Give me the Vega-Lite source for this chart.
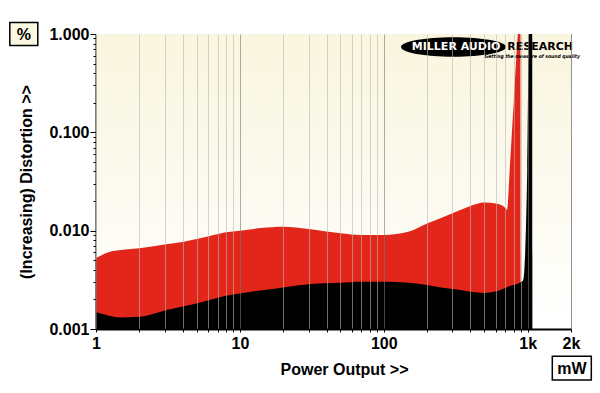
{
  "$schema": "https://vega.github.io/schema/vega-lite/v6.json",
  "width": 475,
  "height": 295,
  "autosize": {"type": "none"},
  "padding": {"left": 96, "top": 34, "right": 29, "bottom": 64},
  "background": "white",
  "config": {
    "view": {"stroke": "#555", "strokeWidth": 1},
    "font": "Liberation Sans"
  },
  "datasets": {
    "red": [
      {"x": 1, "v": 0.00526}, {"x": 1.25, "v": 0.0061}, {"x": 1.5, "v": 0.00635}, {"x": 2, "v": 0.00661},
      {"x": 3, "v": 0.00722}, {"x": 4, "v": 0.00766}, {"x": 5, "v": 0.00822}, {"x": 6, "v": 0.00871},
      {"x": 8, "v": 0.00961}, {"x": 10, "v": 0.00998}, {"x": 14, "v": 0.01062}, {"x": 20, "v": 0.01096},
      {"x": 30, "v": 0.01038}, {"x": 50, "v": 0.00939}, {"x": 70, "v": 0.00902}, {"x": 100, "v": 0.00902},
      {"x": 150, "v": 0.00979}, {"x": 200, "v": 0.0118}, {"x": 250, "v": 0.01343}, {"x": 340, "v": 0.0162},
      {"x": 400, "v": 0.0178}, {"x": 500, "v": 0.0193}, {"x": 600, "v": 0.0189}, {"x": 700, "v": 0.017},
      {"x": 720, "v": 0.0162}, {"x": 750, "v": 0.0413}, {"x": 800, "v": 0.199}, {"x": 878, "v": 1.3},
      {"x": 890, "v": 1.3}, {"x": 892, "v": 0.0029}
    ],
    "black": [
      {"x": 1, "v": 0.00148}, {"x": 1.2, "v": 0.00138}, {"x": 1.47, "v": 0.00131}, {"x": 2, "v": 0.00133},
      {"x": 3.1, "v": 0.00156}, {"x": 5, "v": 0.00182}, {"x": 8, "v": 0.00218}, {"x": 10, "v": 0.0023},
      {"x": 20, "v": 0.00265}, {"x": 31, "v": 0.00286}, {"x": 50, "v": 0.00295}, {"x": 70, "v": 0.00302},
      {"x": 100, "v": 0.00302}, {"x": 200, "v": 0.0028}, {"x": 250, "v": 0.00265}, {"x": 343, "v": 0.00249},
      {"x": 405, "v": 0.00239}, {"x": 500, "v": 0.00233}, {"x": 617, "v": 0.00243}, {"x": 728, "v": 0.00269},
      {"x": 900, "v": 0.00302}, {"x": 930, "v": 0.00314}, {"x": 993, "v": 0.0413}, {"x": 1024, "v": 1.3},
      {"x": 1075, "v": 1.3}, {"x": 1078, "v": 0.001}
    ]
  },
  "layer": [
    {
      "data": {"values": [{}]},
      "mark": {"type": "rect", "color": {"gradient": "linear", "x1": 0, "y1": 0, "x2": 0, "y2": 1, "stops": [{"offset": 0, "color": "#f9f5de"}, {"offset": 1, "color": "#ffffff"}]}},
      "encoding": {
        "x": {
          "datum": 1, "type": "quantitative",
          "scale": {"type": "log", "domain": [1, 2000], "nice": false},
          "axis": {
            "title": "Power Output >>",
            "titleFont": "Liberation Sans", "titleFontSize": 16, "titleFontWeight": "bold", "titleColor": "black",
            "titleX": 248, "titleY": 40, "titleAlign": "center", "titleBaseline": "middle",
            "values": [1,2,3,4,5,6,7,8,9,10,20,30,40,50,60,70,80,90,100,200,300,400,500,600,700,800,900,1000,2000],
            "labelExpr": "datum.value == 1 ? '1' : datum.value == 10 ? '10' : datum.value == 100 ? '100' : datum.value == 1000 ? '1k' : datum.value == 2000 ? '2k' : ''",
            "labelFont": "Liberation Sans", "labelFontSize": 16, "labelFontWeight": "bold", "labelColor": "black",
            "labelPadding": 3, "labelOverlap": false, "labelFlush": false,
            "domainColor": "black", "domainWidth": 2,
            "tickColor": "black", "tickSize": 3, "tickWidth": 1,
            "grid": true,
            "gridColor": {"condition": {"test": "abs(log(datum.value)/LN10 - round(log(datum.value)/LN10)) < 0.001", "value": "#777"}, "value": "#b8b8b8"},
            "gridOpacity": 0.6,
            "gridWidth": 1,
            "zindex": 1
          }
        },
        "x2": {"datum": 2000},
        "y": {
          "datum": 0.001, "type": "quantitative",
          "scale": {"type": "log", "domain": [0.001, 1], "nice": false},
          "axis": {
            "title": "(Increasing) Distortion >>",
            "titleFont": "Liberation Sans", "titleFontSize": 16, "titleFontWeight": "bold", "titleColor": "black",
            "titlePadding": 14,
            "values": [0.001,0.002,0.003,0.004,0.005,0.006,0.007,0.008,0.009,0.01,0.02,0.03,0.04,0.05,0.06,0.07,0.08,0.09,0.1,0.2,0.3,0.4,0.5,0.6,0.7,0.8,0.9,1],
            "labelExpr": "datum.value == 1 ? '1.000' : datum.value == 0.1 ? '0.100' : datum.value == 0.01 ? '0.010' : datum.value == 0.001 ? '0.001' : ''",
            "labelFont": "Liberation Sans", "labelFontSize": 16, "labelFontWeight": "bold", "labelColor": "black",
            "labelPadding": 1, "labelOverlap": false, "labelFlush": false,
            "domainColor": "black", "domainWidth": 2,
            "tickColor": "black",
            "tickSize": {"condition": {"test": "abs(log(datum.value)/LN10 - round(log(datum.value)/LN10)) < 0.001", "value": 6}, "value": 3},
            "tickWidth": 1,
            "grid": true,
            "gridColor": {"condition": {"test": "abs(log(datum.value)/LN10 - round(log(datum.value)/LN10)) < 0.001", "value": "#999"}, "value": "transparent"},
            "gridWidth": 1.2,
            "zindex": 0
          }
        },
        "y2": {"datum": 1}
      }
    },
    {
      "data": {"name": "red"},
      "mark": {"type": "area", "color": "#e2261a", "clip": true, "interpolate": "monotone"},
      "encoding": {
        "x": {"field": "x", "type": "quantitative", "scale": {"type": "log", "domain": [1, 2000], "nice": false}},
        "y": {"field": "v", "type": "quantitative", "scale": {"type": "log", "domain": [0.001, 1], "nice": false}},
        "y2": {"datum": 0.001}
      }
    },
    {
      "data": {"name": "black"},
      "mark": {"type": "area", "color": "#000000", "clip": true, "interpolate": "monotone"},
      "encoding": {
        "x": {"field": "x", "type": "quantitative", "scale": {"type": "log", "domain": [1, 2000], "nice": false}},
        "y": {"field": "v", "type": "quantitative", "scale": {"type": "log", "domain": [0.001, 1], "nice": false}},
        "y2": {"datum": 0.001}
      }
    },
    {
      "data": {"values": [{"label": "logo"}]},
      "mark": {"type": "point", "shape": "M-1,0 A1,0.186 0 1,0 1,0 A1,0.186 0 1,0 -1,0 Z", "filled": true, "color": "#000", "size": 11025, "opacity": 1},
      "encoding": {
        "x": {"datum": 305, "type": "quantitative", "scale": {"type": "log", "domain": [1, 2000], "nice": false}},
        "y": {"datum": 0.7376, "type": "quantitative", "scale": {"type": "log", "domain": [0.001, 1], "nice": false}}
      }
    },
    {
      "data": {"values": [{"t": "MILLER AUDIO"}]},
      "mark": {"type": "text", "font": "DejaVu Sans", "fontWeight": "bold", "fontSize": 11, "align": "center", "baseline": "middle", "color": "white"},
      "encoding": {
        "x": {"datum": 318, "type": "quantitative", "scale": {"type": "log", "domain": [1, 2000], "nice": false}},
        "y": {"datum": 0.745, "type": "quantitative", "scale": {"type": "log", "domain": [0.001, 1], "nice": false}},
        "text": {"field": "t"}
      }
    },
    {
      "data": {"values": [{"t": "RESEARCH"}]},
      "mark": {"type": "text", "font": "DejaVu Sans", "fontWeight": "bold", "fontSize": 11, "align": "center", "baseline": "middle", "color": "black"},
      "encoding": {
        "x": {"datum": 1222, "type": "quantitative", "scale": {"type": "log", "domain": [1, 2000], "nice": false}},
        "y": {"datum": 0.745, "type": "quantitative", "scale": {"type": "log", "domain": [0.001, 1], "nice": false}},
        "text": {"field": "t"}
      }
    },
    {
      "data": {"values": [{"t": "Getting the measure of sound quality"}]},
      "mark": {"type": "text", "font": "DejaVu Sans Condensed", "fontWeight": "bold", "fontStyle": "italic", "fontSize": 5, "align": "center", "baseline": "middle", "color": "black"},
      "encoding": {
        "x": {"datum": 1075, "type": "quantitative", "scale": {"type": "log", "domain": [1, 2000], "nice": false}},
        "y": {"datum": 0.597, "type": "quantitative", "scale": {"type": "log", "domain": [0.001, 1], "nice": false}},
        "text": {"field": "t"}
      }
    },
    {
      "data": {"values": [{"t": "%"}]},
      "layer": [
        {
          "mark": {"type": "point", "shape": "M-1,-0.82 L1,-0.82 L1,0.82 L-1,0.82 Z", "size": 784, "filled": true, "fill": "#fbf8e2", "stroke": "black", "strokeWidth": 1.5, "opacity": 1}
        },
        {
          "mark": {"type": "text", "font": "Liberation Sans", "fontWeight": "bold", "fontSize": 16, "align": "center", "baseline": "middle", "color": "black", "dy": 1},
          "encoding": {"text": {"field": "t"}}
        }
      ],
      "encoding": {
        "x": {"datum": 0.315, "type": "quantitative", "scale": {"type": "log", "domain": [1, 2000], "nice": false}},
        "y": {"datum": 1.0, "type": "quantitative", "scale": {"type": "log", "domain": [0.001, 1], "nice": false}}
      }
    },
    {
      "data": {"values": [{"t": "mW"}]},
      "layer": [
        {
          "mark": {"type": "point", "shape": "M-1,-0.615 L1,-0.615 L1,0.615 L-1,0.615 Z", "size": 1521, "filled": true, "fill": "#ffffff", "stroke": "black", "strokeWidth": 1.5, "opacity": 1}
        },
        {
          "mark": {"type": "text", "font": "Liberation Sans", "fontWeight": "bold", "fontSize": 16, "align": "center", "baseline": "middle", "color": "black", "dy": 1},
          "encoding": {"text": {"field": "t"}}
        }
      ],
      "encoding": {
        "x": {"datum": 2026, "type": "quantitative", "scale": {"type": "log", "domain": [1, 2000], "nice": false}},
        "y": {"datum": 0.0004, "type": "quantitative", "scale": {"type": "log", "domain": [0.001, 1], "nice": false}}
      }
    }
  ]
}
